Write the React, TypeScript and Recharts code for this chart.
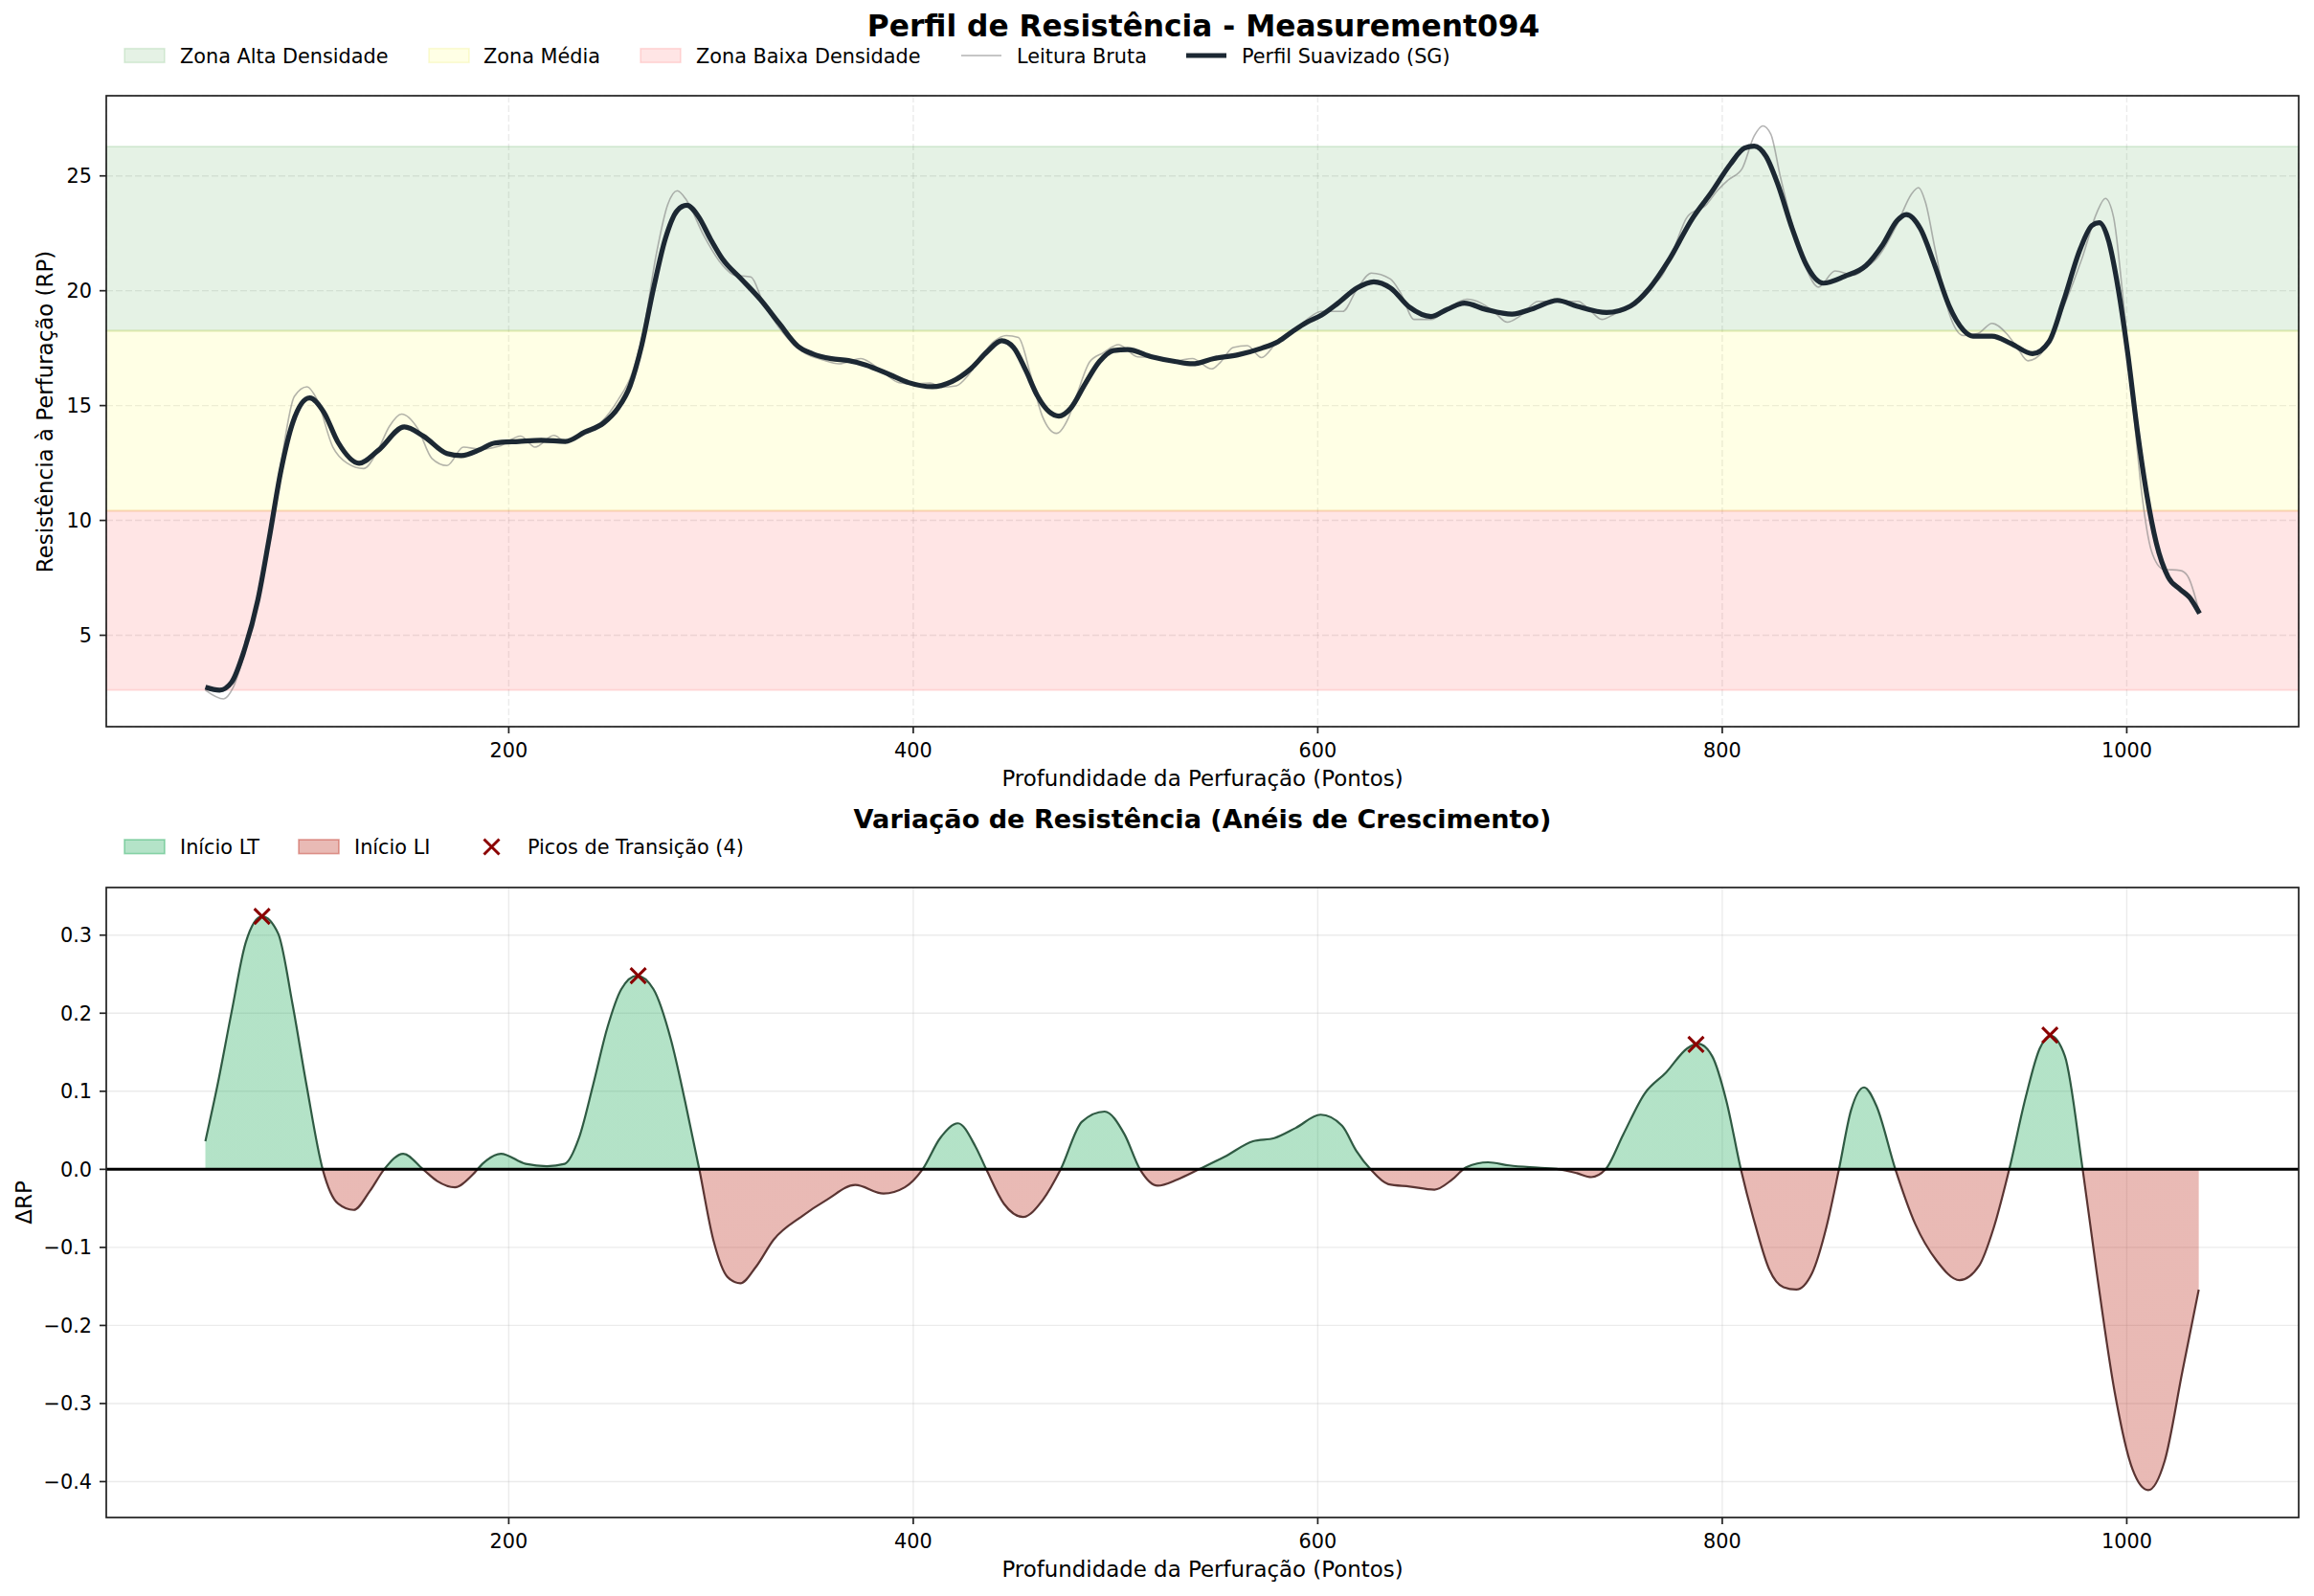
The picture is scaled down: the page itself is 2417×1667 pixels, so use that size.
import React from 'react'
import {
  ComposedChart, Line, Area, Scatter, XAxis, YAxis, CartesianGrid, ReferenceArea, ReferenceLine
} from 'recharts'

const FONT = '"DejaVu Sans", Verdana, sans-serif'

// perfil suavizado (SG)
const smoothDepth = [
  50, 57, 63, 69, 76, 81.5, 87.4, 93.3, 101.5, 108.5, 115.6, 126, 135.5, 148.4, 157.8, 169.5, 176.5,
  186, 193, 205, 216, 228, 237.5, 247, 254, 260, 265.7, 271.5, 277.4, 283.3, 288, 293.8, 299.7,
  305.6, 315, 324.3, 333.7, 343, 350, 359.5, 368, 376.5, 388.3, 397.7, 409.5, 419, 428.4, 436.6,
  443.7, 449.6, 455.5, 461.4, 467.3, 472, 477.9, 485, 492, 499, 506, 518, 530, 538, 548.7, 560.5,
  572, 580.5, 587.6, 594.7, 601.7, 610, 619.4, 627.7, 636, 645.4, 656, 664, 672.5, 683, 696, 706.7,
  718.5, 728, 742.8, 754.6, 764, 773.4, 785.2, 794.6, 804, 811, 815.8, 821.6, 827.5, 834.6, 841.6,
  849.9, 860.5, 871, 879.3, 886.4, 891, 898, 905, 912, 919.3, 924, 933.4, 942.8, 953.4, 961.6,
  968.7, 977, 982.8, 986.4, 991, 995.8, 1000.5, 1005.2, 1009.9, 1014.6, 1020.5, 1026.4, 1031, 1036,
]
const smoothRP = [
  2.74, 2.61, 2.96, 4.28, 6.56, 9.19, 12.18, 14.28, 15.33, 14.72, 13.4, 12.49, 13.05, 14.07, 13.67, 12.91, 12.82,
  13.09, 13.37, 13.44, 13.49, 13.44, 13.84, 14.25, 14.89, 15.86, 17.61, 20.07, 22.26, 23.49, 23.72, 23.23, 22.26,
  21.39, 20.51, 19.63, 18.58, 17.58, 17.26, 17.04, 16.96, 16.77, 16.35, 16.0, 15.82, 16.04, 16.6, 17.35,
  17.82, 17.53, 16.56, 15.42, 14.72, 14.54, 14.89, 15.95, 16.91, 17.4, 17.44, 17.12, 16.91, 16.82, 17.05, 17.21,
  17.49, 17.79, 18.23, 18.63, 18.93, 19.46, 20.12, 20.39, 20.12, 19.28, 18.88, 19.19, 19.46, 19.19, 18.98, 19.23,
  19.58, 19.33, 19.05, 19.33, 20.1, 21.3, 23.14, 24.28, 25.51, 26.21, 26.3, 25.86, 24.63, 22.7, 21.12,
  20.33, 20.63, 21.09, 22.0, 23.05, 23.32, 22.7, 21.12, 19.37, 18.28, 18.02, 18.02, 17.7, 17.26, 17.79,
  19.54, 21.82, 22.84, 22.96, 22.18, 20.07, 17.26, 13.93, 11.12, 9.02, 7.53, 7.0, 6.65, 5.95,
]

// leitura bruta
const rawDepth = [
  50, 59, 63.6, 69, 76, 81.5, 87.4, 94, 100.3, 105, 113, 120, 128.2, 135, 141, 147, 155, 162, 169.5,
  177.6, 186, 195.3, 205.9, 213, 222.3, 228, 237, 245.7, 254, 260.9, 266.8, 272.7, 278.6, 283.3, 288,
  296.2, 305.6, 311.5, 319.7, 325.6, 335, 346.8, 355, 363.3, 374.1, 383, 393, 400, 408.3, 414, 421.3,
  427, 433.1, 440, 446, 452, 457.9, 463.8, 470.8, 476.7, 481, 487.3, 494, 501.5, 511, 520, 530, 538,
  547.5, 552, 558.1, 565.2, 572.2, 579.3, 587, 594, 601.7, 612.3, 619.4, 626.5, 635.9, 641, 647.7, 656,
  664, 673.7, 680.8, 687, 693.7, 700, 709, 720.8, 728.7, 734, 740.5, 747, 754.6, 762, 771, 776, 782.8,
  792.2, 797, 802.8, 809.9, 815.8, 820, 824, 828.7, 834.6, 841.6, 847.5, 855.8, 865.2, 871, 877, 886.4,
  893.4, 897, 900.5, 905.2, 912.2, 919.3, 926.4, 933.4, 940.5, 946, 951.1, 959.3, 968.7, 978.1, 985.2,
  989.4, 993.4, 998.1, 1002.8, 1007.5, 1012.2, 1018.1, 1026.4, 1029.9, 1036,
]
const rawRP = [
  2.61, 2.23, 2.7, 4.1, 6.5, 9.3, 12.5, 15.4, 15.82, 15.3, 13.2, 12.5, 12.26, 13.0, 14.1, 14.63, 14.0, 12.7, 12.39,
  13.19, 13.1, 13.23, 13.67, 13.19, 13.7, 13.44, 13.8, 14.28, 15.24, 16.39, 18.32, 21.47, 23.75, 24.35, 23.93,
  22.44, 21.12, 20.68, 20.6, 19.54, 18.23, 17.26, 17.0, 16.82, 17.05, 16.6, 16.0, 15.95, 15.98, 15.8, 15.86,
  16.3, 17.09, 17.8, 18.05, 17.96, 16.39, 14.54, 13.79, 14.46, 15.5, 16.91, 17.3, 17.65, 17.12, 17.1, 16.95, 17.05,
  16.6, 16.9, 17.53, 17.61, 17.09, 17.7, 18.2, 18.7, 19.1, 19.1, 20.07, 20.77, 20.51, 19.9, 18.75, 18.75,
  19.2, 19.63, 19.46, 19.1, 18.63, 18.9, 19.54, 19.54, 19.54, 19.2, 18.75, 19.0, 19.28, 20.0, 20.77, 21.8, 23.23,
  23.75, 24.3, 24.81, 25.33, 26.74, 27.18, 26.82, 24.98, 22.88, 20.95, 20.16, 20.86, 20.68, 21.0, 21.47, 22.88,
  24.19, 24.49, 23.84, 21.82, 19.02, 18.05, 18.14, 18.58, 18.14, 17.5, 16.95, 17.44, 19.28, 21.47, 23.4,
  24.02, 23.23, 19.72, 15.33, 11.12, 8.67, 7.88, 7.82, 7.61, 5.95,
]

// variação (ΔRP)
const deltaDepth = [
  50, 56, 63, 70, 78, 86, 93, 100, 108, 115.6, 123.3, 131.3, 138.4, 147.8, 157.6, 164.6, 173.4, 182.1,
  187.4, 196.1, 208.4, 218.9, 227.7, 234.7, 241.7, 248.7, 255.7, 263.4, 271.5, 280.2, 287.2, 294.2,
  301.2, 308.2, 314.5, 322.2, 331, 345, 357.3, 371.3, 385.3, 395.8, 404.6, 413.3, 422.1, 430.8, 436.1,
  444.8, 454.3, 464.1, 472.9, 483.4, 494.6, 504.4, 512.1, 520.8, 530.6, 541.2, 553.9, 568, 578.5,
  589.1, 601.4, 612, 619, 626.1, 634.9, 645.4, 657.7, 666.5, 673.6, 684.2, 694.7, 708.8, 719.4, 728.2,
  735.2, 742.3, 751.1, 761.6, 772.2, 782.7, 788, 795, 802.1, 809.2, 816.2, 823.2, 830.3, 836.6, 844.4,
  851.4, 857.7, 863.7, 870.1, 876.1, 885.6, 895.4, 906, 917.3, 927.1, 934.2, 941.9, 950, 957, 962.3,
  969.4, 978.2, 985.2, 994, 1002.8, 1010.6, 1018.7, 1027.5, 1035.6,
]
const deltaRP = [
  0.036, 0.108, 0.202, 0.291, 0.324, 0.302, 0.213, 0.108, 0.0, -0.044, -0.052, -0.028, 0.0, 0.02, 0.0, -0.015, -0.023, -0.007,
  0.008, 0.02, 0.007, 0.004, 0.007, 0.04, 0.108, 0.181, 0.231, 0.248, 0.231, 0.166, 0.087, 0.0,
  -0.091, -0.138, -0.146, -0.125, -0.09, -0.06, -0.039, -0.02, -0.031, -0.023, 0.0, 0.04, 0.059, 0.029, 0.0,
  -0.044, -0.061, -0.039, 0.0, 0.061, 0.074, 0.045, 0.0, -0.021, -0.013, 0.0, 0.016, 0.036, 0.04,
  0.053, 0.07, 0.056, 0.024, 0.0, -0.019, -0.022, -0.026, -0.013, 0.003, 0.009, 0.005, 0.002, 0.0, -0.005,
  -0.01, 0.0, 0.045, 0.097, 0.124, 0.155, 0.161, 0.145, 0.087, 0.0, -0.07, -0.128, -0.151, -0.154, -0.133,
  -0.075, 0.0, 0.076, 0.105, 0.082, 0.0, -0.07, -0.117, -0.142, -0.123, -0.075, 0.0, 0.092, 0.155, 0.171,
  0.145, 0.0, -0.133, -0.285, -0.384, -0.411, -0.374, -0.259, -0.154,
]

const peakDepth = [78, 264, 787, 962]
const peakDelta = [0.324, 0.248, 0.16, 0.172]

// limites das zonas (RP)
const zoneLow = [2.61, 10.42]
const zoneMid = [10.42, 18.26]
const zoneHigh = [18.26, 26.28]

const depthTicks = [200, 400, 600, 800, 1000]
const rpTicks = [5, 10, 15, 20, 25]
const deltaTicks = [-0.4, -0.3, -0.2, -0.1, 0, 0.1, 0.2, 0.3]

const toPoints = (xs: number[], ys: number[]) => xs.map((x, i) => ({ x, y: ys[i] }))

const smoothData = toPoints(smoothDepth, smoothRP)
const rawData = toPoints(rawDepth, rawRP)
const deltaData = toPoints(deltaDepth, deltaRP)
const peakData = toPoints(peakDepth, peakDelta)

const dMax = Math.max(...deltaRP)
const dMin = Math.min(...deltaRP)
const zeroOffset = dMax / (dMax - dMin)

const tickStyle = { fontSize: 20.8, fill: '#000', fontFamily: FONT }
const tickLine = { stroke: '#222', strokeWidth: 1.7 }
const minus = (v: number) => v.toFixed(1).replace('-', '\u2212')

const PeakMark = (props: any) => {
  const { cx, cy } = props
  if (cx == null || cy == null) return <g />
  const s = 8
  return (
    <path
      d={`M${cx - s},${cy - s}L${cx + s},${cy + s}M${cx - s},${cy + s}L${cx + s},${cy - s}`}
      stroke="#8b0000"
      strokeWidth={3}
    />
  )
}

function Overlay() {
  const legendText = { fontSize: 20.8, fontFamily: FONT, fill: '#000' }
  return (
    <svg
      width={2417}
      height={1667}
      style={{ position: 'absolute', left: 0, top: 0, pointerEvents: 'none' }}
    >
      {/* títulos */}
      <text x={1257} y={38} textAnchor="middle" fontSize={31.25} fontWeight="bold" fontFamily={FONT}>
        Perfil de Resistência - Measurement094
      </text>
      <text x={1256} y={865} textAnchor="middle" fontSize={27.1} fontWeight="bold" fontFamily={FONT}>
        Variação de Resistência (Anéis de Crescimento)
      </text>

      {/* legenda superior */}
      <rect x={130} y={50.7} width={42} height={14.6} fill="#008000" fillOpacity={0.1} stroke="#008000" strokeOpacity={0.12} strokeWidth={1.6} />
      <text x={188} y={65.5} {...legendText}>Zona Alta Densidade</text>
      <rect x={448} y={50.7} width={42} height={14.6} fill="#ffff00" fillOpacity={0.1} stroke="#e0e000" strokeOpacity={0.15} strokeWidth={1.6} />
      <text x={505} y={65.5} {...legendText}>Zona Média</text>
      <rect x={669} y={50.7} width={42} height={14.6} fill="#ff0000" fillOpacity={0.1} stroke="#ff0000" strokeOpacity={0.12} strokeWidth={1.6} />
      <text x={727} y={65.5} {...legendText}>Zona Baixa Densidade</text>
      <line x1={1004} x2={1046} y1={58} y2={58} stroke="#808080" strokeOpacity={0.6} strokeWidth={1.7} />
      <text x={1062} y={65.5} {...legendText}>Leitura Bruta</text>
      <line x1={1239} x2={1281} y1={58} y2={58} stroke="#1c2833" strokeWidth={5.2} />
      <text x={1297} y={65.5} {...legendText}>Perfil Suavizado (SG)</text>

      {/* legenda inferior */}
      <rect x={130} y={877} width={42} height={14.6} fill="#27ae60" fillOpacity={0.35} stroke="#27ae60" strokeOpacity={0.45} strokeWidth={1.6} />
      <text x={188} y={892} {...legendText}>Início LT</text>
      <rect x={312} y={877} width={42} height={14.6} fill="#c0392b" fillOpacity={0.35} stroke="#c0392b" strokeOpacity={0.45} strokeWidth={1.6} />
      <text x={370} y={892} {...legendText}>Início LI</text>
      <PeakMark cx={513.5} cy={884.5} />
      <text x={551} y={892} {...legendText}>Picos de Transição (4)</text>

      {/* rótulos dos eixos */}
      <text x={1256} y={821} textAnchor="middle" fontSize={22.9} fontFamily={FONT}>
        Profundidade da Perfuração (Pontos)
      </text>
      <text x={1256} y={1647} textAnchor="middle" fontSize={22.9} fontFamily={FONT}>
        Profundidade da Perfuração (Pontos)
      </text>
      <text transform="translate(55,430) rotate(-90)" textAnchor="middle" fontSize={22.9} fontFamily={FONT}>
        Resistência à Perfuração (RP)
      </text>
      <text transform="translate(33,1256) rotate(-90)" textAnchor="middle" fontSize={22.9} fontFamily={FONT}>
        ΔRP
      </text>

      {/* molduras */}
      <rect x={111} y={100} width={2290} height={659} fill="none" stroke="#222" strokeWidth={1.7} />
      <rect x={111} y={927} width={2290} height={658} fill="none" stroke="#222" strokeWidth={1.7} />
    </svg>
  )
}

export default function App() {
  return (
    <div style={{ position: 'relative', width: 2417, height: 1667, background: '#fff', overflow: 'hidden' }}>
      <style>{'body{margin:0}'}</style>

      <div style={{ position: 'absolute', left: 0, top: 0 }}>
        <ComposedChart width={2417} height={860} margin={{ top: 100, right: 16, bottom: 41, left: 0 }}>
          <CartesianGrid stroke="#b0b0b0" strokeOpacity={0.25} strokeDasharray="7 3" strokeWidth={1.4} />
          <XAxis
            dataKey="x"
            type="number"
            domain={[1, 1085]}
            ticks={depthTicks}
            interval={0}
            allowDataOverflow
            height={60}
            axisLine={false}
            tickLine={tickLine}
            tickSize={7}
            tickMargin={10}
            tick={tickStyle}
          />
          <YAxis
            type="number"
            domain={[1.02, 28.49]}
            ticks={rpTicks}
            interval={0}
            allowDataOverflow
            width={111}
            axisLine={false}
            tickLine={tickLine}
            tickSize={7}
            tickMargin={8}
            tick={tickStyle}
          />
          <ReferenceArea y1={zoneHigh[0]} y2={zoneHigh[1]} fill="#008000" fillOpacity={0.1} stroke="#008000" strokeOpacity={0.1} strokeWidth={2} />
          <ReferenceArea y1={zoneMid[0]} y2={zoneMid[1]} fill="#ffff00" fillOpacity={0.1} stroke="#d8d800" strokeOpacity={0.15} strokeWidth={2} />
          <ReferenceArea y1={zoneLow[0]} y2={zoneLow[1]} fill="#ff0000" fillOpacity={0.1} stroke="#ff0000" strokeOpacity={0.1} strokeWidth={2} />
          <Line
            data={rawData}
            dataKey="y"
            type="monotone"
            stroke="#808080"
            strokeOpacity={0.6}
            strokeWidth={1.6}
            dot={false}
            activeDot={false}
            isAnimationActive={false}
          />
          <Line
            data={smoothData}
            dataKey="y"
            type="monotone"
            stroke="#1c2833"
            strokeWidth={5.2}
            dot={false}
            activeDot={false}
            isAnimationActive={false}
          />
        </ComposedChart>
      </div>

      <div style={{ position: 'absolute', left: 0, top: 827 }}>
        <ComposedChart width={2417} height={840} margin={{ top: 100, right: 16, bottom: 22, left: 0 }}>
          <defs>
            <linearGradient id="deltaFill" x1="0" y1="0" x2="0" y2="1">
              <stop offset={zeroOffset} stopColor="#27ae60" stopOpacity={0.35} />
              <stop offset={zeroOffset} stopColor="#c0392b" stopOpacity={0.35} />
            </linearGradient>
            <linearGradient id="deltaStroke" x1="0" y1="0" x2="0" y2="1">
              <stop offset={zeroOffset} stopColor="#2f5a43" />
              <stop offset={zeroOffset} stopColor="#5a3432" />
            </linearGradient>
          </defs>
          <CartesianGrid stroke="#b0b0b0" strokeOpacity={0.25} strokeWidth={1.4} />
          <XAxis
            dataKey="x"
            type="number"
            domain={[1, 1085]}
            ticks={depthTicks}
            interval={0}
            allowDataOverflow
            height={60}
            axisLine={false}
            tickLine={tickLine}
            tickSize={7}
            tickMargin={10}
            tick={tickStyle}
          />
          <YAxis
            type="number"
            domain={[-0.446, 0.361]}
            ticks={deltaTicks}
            interval={0}
            allowDataOverflow
            width={111}
            axisLine={false}
            tickLine={tickLine}
            tickSize={7}
            tickMargin={8}
            tick={tickStyle}
            tickFormatter={minus}
          />
          <Area
            data={deltaData}
            dataKey="y"
            type="monotone"
            baseValue={0}
            fill="url(#deltaFill)"
            fillOpacity={1}
            stroke="url(#deltaStroke)"
            strokeWidth={2.2}
            dot={false}
            activeDot={false}
            isAnimationActive={false}
          />
          <ReferenceLine y={0} stroke="#000" strokeWidth={3} />
          <Scatter data={peakData} dataKey="y" shape={PeakMark} isAnimationActive={false} />
        </ComposedChart>
      </div>

      <Overlay />
    </div>
  )
}
